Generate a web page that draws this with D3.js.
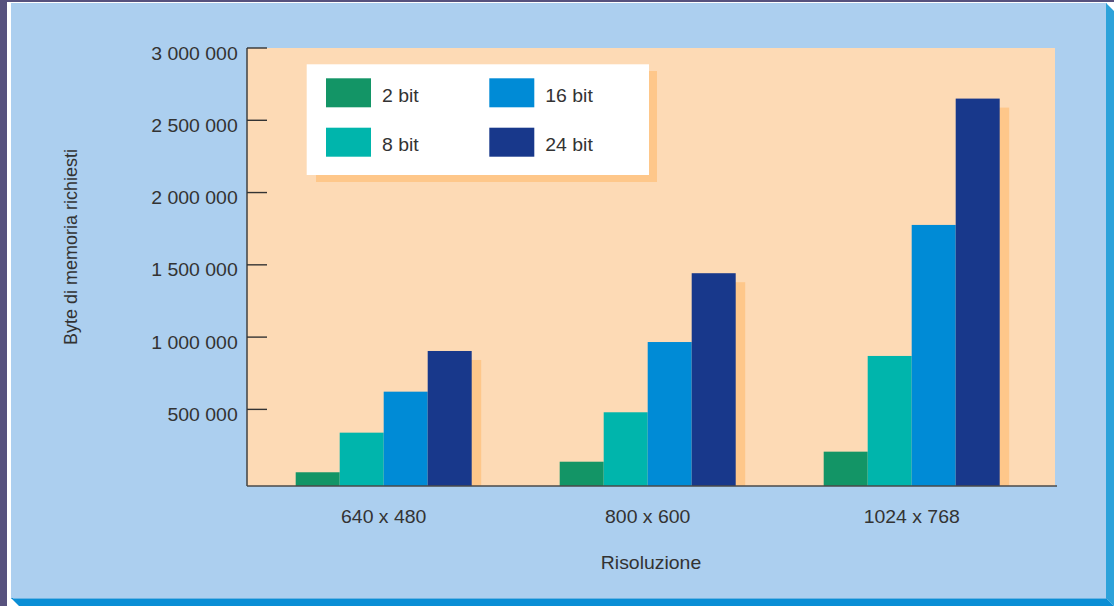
<!DOCTYPE html>
<html><head><meta charset="utf-8">
<script src="https://cdn.jsdelivr.net/npm/d3@7"></script>
<style>
html,body{margin:0;padding:0;background:#57527e;}
svg{display:block;}
text{font-family:"Liberation Sans",Arial,sans-serif;fill:#333;}
</style></head>
<body>
<svg id="chart" width="1114" height="606"></svg>
<script>
const categories = ["640 x 480", "800 x 600", "1024 x 768"];
const seriesNames = ["2 bit", "8 bit", "16 bit", "24 bit"];
const bit2  = [65000, 138000, 207500];
const bit8  = [339000, 480000, 869600];
const bit16 = [622600, 966000, 1776000];
const bit24 = [904000, 1442000, 2650000];
const yTickValues = [500000, 1000000, 1500000, 2000000, 2500000, 3000000];
const yTickLabels = ["500 000", "1 000 000", "1 500 000", "2 000 000", "2 500 000", "3 000 000"];
const colors = ["#139566", "#00b5ac", "#008bd6", "#18388b"];

const seriesValues = [bit2, bit8, bit16, bit24];
const svg = d3.select("#chart");

// frame
svg.append("rect").attr("x", 0).attr("y", 0).attr("width", 1114).attr("height", 606).attr("fill", "#57527e");
svg.append("rect").attr("x", 7).attr("y", 2).attr("width", 1107).attr("height", 604).attr("fill", "#ffffff");
svg.append("rect").attr("x", 11).attr("y", 3).attr("width", 1096).attr("height", 596).attr("fill", "#accfef");
svg.append("polygon").attr("points", "1106,3 1114,11 1114,606 1106,598").attr("fill", "#2ca2da");
svg.append("polygon").attr("points", "11,598 1106,598 1114,606 19,606").attr("fill", "#0b8ed5");
svg.append("line").attr("x1", 13).attr("x2", 1106).attr("y1", 598.5).attr("y2", 598.5).attr("stroke", "#6ab4e4").attr("stroke-width", 1);

// scales
const y = d3.scaleLinear().domain([-30000, 3000000]).range([486, 48]);
const x = d3.scaleBand().domain(categories).range([251.7, 1043.7]).padding(0);
const inner = d3.scaleBand().domain(seriesNames).range([x.bandwidth() / 6, x.bandwidth() * 5 / 6]).padding(0);
const base = y.range()[0];
const plotLeft = 247, plotRight = 1055;

// plot area
svg.append("rect").attr("x", plotLeft).attr("y", y(3000000)).attr("width", plotRight - plotLeft)
  .attr("height", base - y(3000000)).attr("fill", "#fddab5");

// legend
const lg = svg.append("g");
lg.append("rect").attr("x", 316).attr("y", 71).attr("width", 341).attr("height", 111).attr("fill", "#fec78a");
lg.append("rect").attr("x", 306.7).attr("y", 64.3).attr("width", 342.3).attr("height", 110.7).attr("fill", "#ffffff");
seriesNames.forEach((s, i) => {
  const col = Math.floor(i / 2), row = i % 2;
  const sx = 326 + col * 163.3, sy = 78.3 + row * 49.4;
  lg.append("rect").attr("x", sx).attr("y", sy).attr("width", 45).attr("height", 29).attr("fill", colors[i]);
  lg.append("text").attr("transform", `translate(${sx + 56},${sy + 23.4}) scale(1.08,1)`)
    .attr("font-size", 18).text(s);
});

// bars
const groups = svg.append("g").selectAll("g").data(categories).join("g")
  .attr("transform", d => `translate(${x(d)},0)`);
// shadow behind 24 bit
groups.append("rect")
  .attr("x", (d, i) => inner("24 bit") + 9.5)
  .attr("y", (d, i) => y(bit24[i]) + 9)
  .attr("width", inner.bandwidth())
  .attr("height", (d, i) => base - y(bit24[i]) - 9)
  .attr("fill", "#fec78a");
seriesNames.forEach((s, si) => {
  groups.append("rect")
    .attr("x", inner(s))
    .attr("y", (d, i) => y(seriesValues[si][i]))
    .attr("width", inner.bandwidth())
    .attr("height", (d, i) => base - y(seriesValues[si][i]))
    .attr("fill", colors[si]);
});

// y axis
const yAxis = svg.append("g");
yAxis.append("line").attr("x1", plotLeft).attr("x2", plotLeft).attr("y1", y(3000000)).attr("y2", base)
  .attr("stroke", "#4a4a4a").attr("stroke-width", 1.6);
yTickValues.forEach((v, i) => {
  yAxis.append("line").attr("x1", plotLeft).attr("x2", plotLeft + 20).attr("y1", y(v)).attr("y2", y(v))
    .attr("stroke", "#333").attr("stroke-width", 1.4);
  yAxis.append("text").attr("transform", `translate(237.7,${y(v) + 11.5}) scale(1.08,1)`)
    .attr("text-anchor", "end").attr("font-size", 18).text(yTickLabels[i]);
});

// x axis
svg.append("line").attr("x1", plotLeft).attr("x2", 1057).attr("y1", base).attr("y2", base)
  .attr("stroke", "#4a4a4a").attr("stroke-width", 1.6);
categories.forEach(c => {
  svg.append("text").attr("transform", `translate(${x(c) + x.bandwidth() / 2},523.3) scale(1.08,1)`)
    .attr("text-anchor", "middle").attr("font-size", 18).text(c);
});

// titles
svg.append("text").attr("transform", `translate(651,568.5) scale(1.08,1)`)
  .attr("text-anchor", "middle").attr("font-size", 18).text("Risoluzione");
svg.append("text").attr("transform", `translate(77,247) rotate(-90)`)
  .attr("text-anchor", "middle").attr("font-size", 18).text("Byte di memoria richiesti");
</script>
</body></html>
